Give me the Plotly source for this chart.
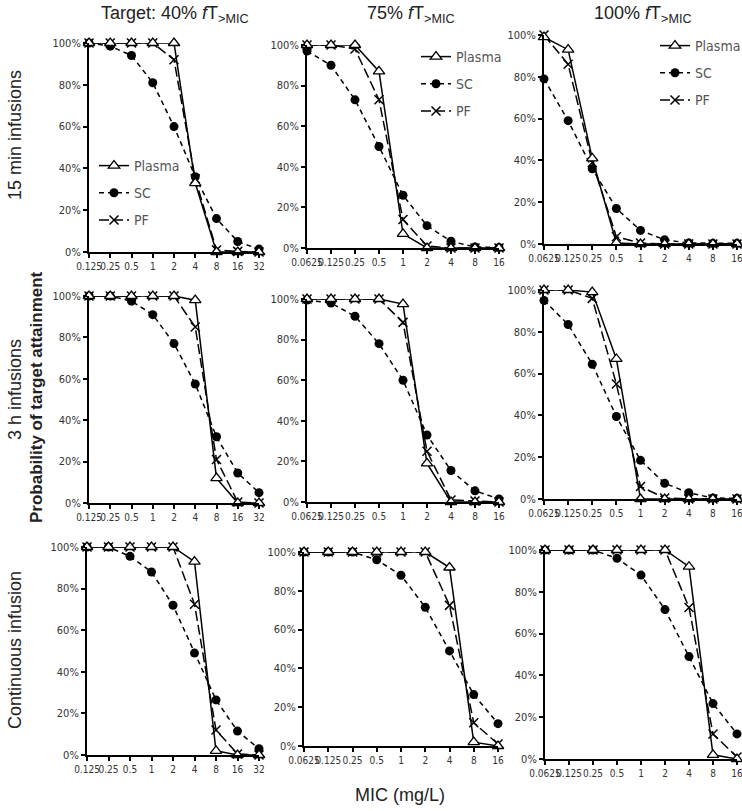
import plotly.graph_objects as go
from plotly.subplots import make_subplots

# ---------------- data ----------------
mic_40 = ["0.125", "0.25", "0.5", "1", "2", "4", "8", "16", "32"]
mic_75 = ["0.0625", "0.125", "0.25", "0.5", "1", "2", "4", "8", "16"]
mic_100 = ["0.0625", "0.125", "0.25", "0.5", "1", "2", "4", "8", "16"]
y_ticks = [0, 20, 40, 60, 80, 100]
y_ticklabels = ["0%", "20%", "40%", "60%", "80%", "100%"]

# 15 min infusions
plasma_40_15 = [100, 100, 100, 100, 100, 33, 0, 0, 0]
sc_40_15 = [100, 98.5, 94, 81, 60, 36, 16, 5, 1.4]
pf_40_15 = [100, 100, 100, 100, 92, 35, 1, 0.3, 0]
plasma_75_15 = [100, 100, 100, 87, 7, 0, 0, 0, 0]
sc_75_15 = [97, 90, 73, 50, 26, 11, 3.3, 0.5, 0.3]
pf_75_15 = [100, 100, 98, 73, 14, 1, 0, 0, 0]
plasma_100_15 = [99, 93, 41, 0.5, 0, 0, 0, 0, 0]
sc_100_15 = [79, 59, 36, 17, 6.5, 2, 0.5, 0.3, 0.3]
pf_100_15 = [100, 86, 39, 3.5, 0.5, 0, 0, 0, 0]

# 3 h infusions
plasma_40_3h = [100, 100, 100, 100, 100, 98, 12, 0, 0]
sc_40_3h = [100, 100, 97.5, 91, 77, 57.5, 32, 14.5, 5]
pf_40_3h = [100, 100, 100, 100, 100, 85, 21, 0.5, 0]
plasma_75_3h = [100, 100, 100, 100, 97.5, 19, 0, 0, 0]
sc_75_3h = [99.5, 98, 91.5, 78, 60, 33, 15.5, 5.5, 1.5]
pf_75_3h = [100, 100, 100, 100, 88.5, 25, 1, 0.5, 0]
plasma_100_3h = [100, 100, 99, 67, 0, 0, 0, 0, 0]
sc_100_3h = [95, 83.5, 64.5, 39.5, 18.5, 7.5, 3, 0.5, 0.3]
pf_100_3h = [100, 100, 96, 55, 6, 0.5, 0, 0, 0]

# Continuous infusion
plasma_40_ci = [100, 100, 100, 100, 100, 93, 2, 0, 0]
sc_40_ci = [100, 100, 95.5, 88, 72, 49, 26.5, 11.5, 3]
pf_40_ci = [100, 100, 100, 100, 100, 72.5, 12, 0.5, 0]
plasma_75_ci = [100, 100, 100, 100, 100, 100, 92, 2, 0]
sc_75_ci = [100, 100, 100, 96, 88, 71.5, 49, 26.5, 11.5]
pf_75_ci = [100, 100, 100, 100, 100, 100, 72.5, 12, 1]
plasma_100_ci = [100, 100, 100, 100, 100, 100, 92, 2, 0]
sc_100_ci = [100, 100, 100, 96, 88, 71.5, 49, 26.5, 12]
pf_100_ci = [100, 100, 100, 100, 100, 100, 72.5, 12, 1]

col_mics = [mic_40, mic_75, mic_100]
panels = [
    [(plasma_40_15, sc_40_15, pf_40_15), (plasma_75_15, sc_75_15, pf_75_15), (plasma_100_15, sc_100_15, pf_100_15)],
    [(plasma_40_3h, sc_40_3h, pf_40_3h), (plasma_75_3h, sc_75_3h, pf_75_3h), (plasma_100_3h, sc_100_3h, pf_100_3h)],
    [(plasma_40_ci, sc_40_ci, pf_40_ci), (plasma_75_ci, sc_75_ci, pf_75_ci), (plasma_100_ci, sc_100_ci, pf_100_ci)],
]

# ---------------- layout geometry (pixels) ----------------
W, H = 742, 811
xdom_px = [
    [(89, 259), (307, 499), (544, 737)],
    [(89, 259), (307, 499), (544, 737)],
    [(87, 259), (304, 498), (545, 737)],
]
ydom_px = [
    [(43, 252), (45, 248), (35, 244)],
    [(296, 503), (299, 502), (290, 499)],
    [(547, 755), (552, 746), (550, 759)],
]

NARROW = "Liberation Sans Narrow, Arial Narrow, DejaVu Sans Condensed, sans-serif"
XTICKFONT = dict(family=NARROW, size=10, color="#333333")
YTICKFONT = dict(family=NARROW, size=11, color="#333333")
LEGFONT = dict(family=NARROW, size=14, color="#555555")
MAINFONT = "Liberation Sans, Arial, sans-serif"

fig = make_subplots(rows=3, cols=3)

styles = [
    ("Plasma", dict(color="black", width=1.5, dash="solid"),
     dict(symbol="triangle-up", size=10, color="white", line=dict(width=1.3, color="black"))),
    ("SC", dict(color="black", width=1.5, dash="5px,4px"),
     dict(symbol="circle", size=9, color="black")),
    ("PF", dict(color="black", width=1.5, dash="10px,4px"),
     dict(symbol="x-thin", size=9, color="black", line=dict(width=1.5, color="black"))),
]
legend_names = {0: "legend", 1: "legend2", 2: "legend3"}

for r in range(3):
    for c in range(3):
        series = panels[r][c]
        for k in (1, 2, 0):  # draw plasma last (on top)
            name, ln, mk = styles[k]
            fig.add_trace(
                go.Scatter(
                    x=col_mics[c], y=series[k], mode="lines+markers", name=name,
                    line=ln, marker=mk, cliponaxis=False,
                    showlegend=(r == 0), legend=legend_names[c],
                    legendgroup=f"{name}{c}", legendrank=k,
                ),
                row=r + 1, col=c + 1,
            )

for r in range(3):
    for c in range(3):
        idx = r * 3 + c + 1
        xs = "xaxis" if idx == 1 else f"xaxis{idx}"
        ys = "yaxis" if idx == 1 else f"yaxis{idx}"
        x0, x1 = xdom_px[r][c]
        yt, yb = ydom_px[r][c]
        fig.layout[xs].update(
            domain=[x0 / W, x1 / W], type="category", categoryorder="array",
            categoryarray=col_mics[c], range=[0, 8], showline=True, linecolor="black",
            linewidth=2, ticks="outside", ticklen=4, tickwidth=1.5, tickcolor="black",
            tickfont=XTICKFONT, showgrid=False, zeroline=False, tickangle=0,
            automargin=False,
        )
        fig.layout[ys].update(
            domain=[1 - yb / H, 1 - yt / H], range=[0, 100], tickmode="array",
            tickvals=y_ticks, ticktext=y_ticklabels, showline=True, linecolor="black",
            linewidth=2, ticks="outside", ticklen=4, tickwidth=1.5, tickcolor="black",
            tickfont=YTICKFONT, showgrid=False, zeroline=False, automargin=False,
        )

leg_common = dict(xanchor="left", yanchor="top", bgcolor="rgba(0,0,0,0)",
                  font=LEGFONT, itemwidth=30, tracegroupgap=6)
fig.update_layout(
    legend=dict(x=94 / W, y=1 - 150 / H, **leg_common),
    legend2=dict(x=416 / W, y=1 - 41 / H, **leg_common),
    legend3=dict(x=655 / W, y=1 - 30 / H, **leg_common),
)

annotations = [
    dict(text="Target: 40% <i>f</i>T<sub>&gt;MIC</sub>", x=175 / W, y=1 - 14 / H),
    dict(text="75% <i>f</i>T<sub>&gt;MIC</sub>", x=411 / W, y=1 - 14 / H),
    dict(text="100% <i>f</i>T<sub>&gt;MIC</sub>", x=643 / W, y=1 - 14 / H),
    dict(text="15 min infusions", x=15 / W, y=1 - 135 / H, textangle=-90),
    dict(text="3 h infusions", x=15 / W, y=1 - 390 / H, textangle=-90),
    dict(text="Continuous infusion", x=15 / W, y=1 - 650 / H, textangle=-90),
    dict(text="<b>Probability of target attainment</b>", x=37 / W, y=1 - 397 / H, textangle=-90,
         font=dict(family=MAINFONT, size=17, color="#222222")),
    dict(text="MIC (mg/L)", x=400 / W, y=1 - 795 / H),
]
for a in annotations:
    a.setdefault("font", dict(family=MAINFONT, size=18, color="#222222"))
    fig.add_annotation(xref="paper", yref="paper", showarrow=False,
                       xanchor="center", yanchor="middle", **a)

fig.update_layout(
    width=W, height=H, margin=dict(l=0, r=0, t=0, b=0, autoexpand=False),
    paper_bgcolor="white", plot_bgcolor="white",
)

fig.write_html(
    "out.html",
    config={"displayModeBar": False},
    post_script="document.body.style.margin='0';document.body.style.overflow='hidden';",
)
